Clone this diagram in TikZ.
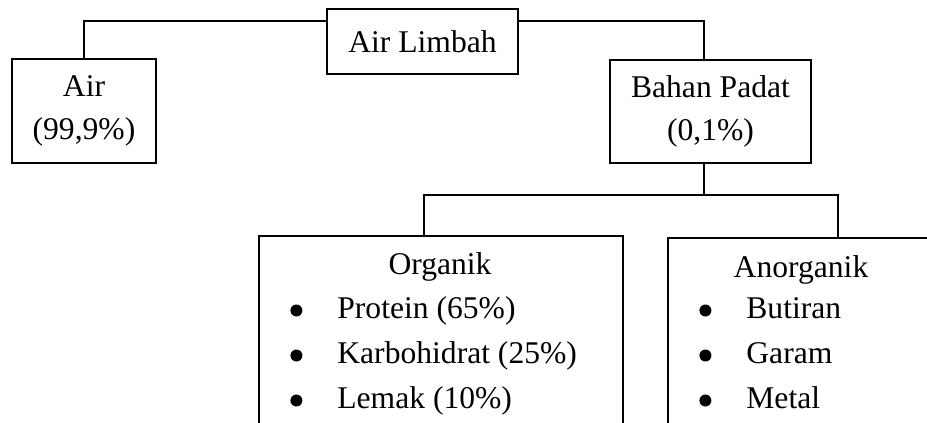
\documentclass[tikz,border=0pt]{standalone}
\usepackage{fontspec}
\setmainfont{Liberation Serif}

\newcommand{\bulletitem}[1]{\makebox[23.5pt][l]{\tikz[baseline=-3.75pt, x=1pt, y=1pt]\fill (3pt,0) circle[radius=3pt];}#1}

\begin{document}
\begin{tikzpicture}[
    x=0.5pt, y=-0.5pt,
    every node/.style={font=\fontsize{15.8}{21.5}\selectfont},
    box/.style={rectangle, draw, line width=1pt, align=center, inner sep=0pt},
    title/.style={anchor=base, inner sep=0pt},
    items/.style={anchor=base west, inner sep=0pt,
                  font=\fontsize{15.8}{22.5}\selectfont},
    link/.style={line width=1pt}
]
    \useasboundingbox (0,0) rectangle (927,423);
    \clip (0,0) rectangle (927,423);

    \node[box, minimum width=95.5pt, minimum height=32.5pt] (limbah) at (422.5,41.5) {Air Limbah};
    \node[box, minimum width=72pt, minimum height=52pt] (air) at (84,111) {Air\\(99,9\%)};
    \node[box, minimum width=100.5pt, minimum height=51.5pt] (padat) at (710.5,111.5) {Bahan Padat\\(0,1\%)};

    % bottom boxes run past the edge of the picture
    \node[box, anchor=north, minimum width=182pt, minimum height=110pt] (org) at (441,235) {};
    \node[box, anchor=north, minimum width=170pt, minimum height=110pt] (anorg) at (838,237) {};

    \node[title] (orgtitle) at (440,274) {Organik};
    \node[items] (orglist) at (290,318) {\begin{tabular}[t]{@{}l@{}}
        \bulletitem{Protein (65\%)}\\
        \bulletitem{Karbohidrat (25\%)}\\
        \bulletitem{Lemak (10\%)}
    \end{tabular}};

    \node[title] (anorgtitle) at (801,277) {Anorganik};
    \node[items] (anorglist) at (699,318) {\begin{tabular}[t]{@{}l@{}}
        \bulletitem{Butiran}\\
        \bulletitem{Garam}\\
        \bulletitem{Metal}
    \end{tabular}};

    \coordinate (topbar) at (0,21);
    \coordinate (split) at (704,195);

    \draw[link] (air.north) |- (limbah.west |- topbar);
    \draw[link] (limbah.east |- topbar) -| ([xshift=-3.25pt]padat.north);
    \draw[link] ([xshift=-3.25pt]padat.south) -- (split);
    \draw[link] ([xshift=-8.5pt]org.north) |- (split) -| (anorg.north);
\end{tikzpicture}
\end{document}
